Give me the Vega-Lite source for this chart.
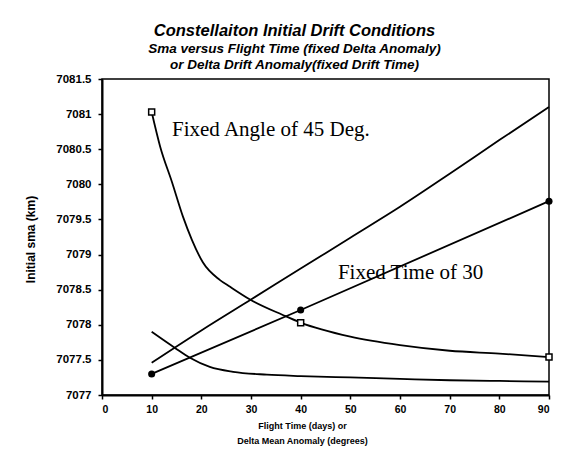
{
  "$schema": "https://vega.github.io/schema/vega-lite/v6.json",
  "width": 447,
  "height": 316,
  "autosize": {"type": "none"},
  "padding": {"left": 102, "top": 79, "right": 20, "bottom": 74},
  "background": "white",
  "config": {
    "view": {"stroke": "black", "strokeWidth": 1.5},
    "font": "Liberation Sans"
  },
  "title": {
    "text": "Constellaiton Initial Drift Conditions",
    "subtitle": ["Sma versus Flight Time (fixed Delta Anomaly)", "or Delta Drift Anomaly(fixed Drift Time)"],
    "anchor": "middle",
    "dx": -31,
    "offset": 2,
    "font": "Liberation Sans",
    "fontSize": 16.5,
    "fontStyle": "italic",
    "fontWeight": "bold",
    "color": "black",
    "subtitleFont": "Liberation Sans",
    "subtitleFontSize": 13.5,
    "subtitleFontStyle": "italic",
    "subtitleFontWeight": "bold",
    "subtitleColor": "black",
    "subtitleLineHeight": 16,
    "subtitlePadding": 2
  },
  "datasets": {
    "curves": [
      {"series": "angle45", "x": 10, "sma": 7081.03},
      {"series": "angle45", "x": 11.7, "sma": 7080.54},
      {"series": "angle45", "x": 14.1, "sma": 7080.03},
      {"series": "angle45", "x": 16.3, "sma": 7079.54},
      {"series": "angle45", "x": 18.1, "sma": 7079.21},
      {"series": "angle45", "x": 20.3, "sma": 7078.89},
      {"series": "angle45", "x": 23.7, "sma": 7078.64},
      {"series": "angle45", "x": 25.8, "sma": 7078.54},
      {"series": "angle45", "x": 29.8, "sma": 7078.36},
      {"series": "angle45", "x": 36.4, "sma": 7078.14},
      {"series": "angle45", "x": 40, "sma": 7078.03},
      {"series": "angle45", "x": 50, "sma": 7077.83},
      {"series": "angle45", "x": 60, "sma": 7077.71},
      {"series": "angle45", "x": 70, "sma": 7077.63},
      {"series": "angle45", "x": 80, "sma": 7077.59},
      {"series": "angle45", "x": 90, "sma": 7077.54},
      {"series": "lower", "x": 10, "sma": 7077.9},
      {"series": "lower", "x": 14.7, "sma": 7077.67},
      {"series": "lower", "x": 17.7, "sma": 7077.53},
      {"series": "lower", "x": 21.7, "sma": 7077.4},
      {"series": "lower", "x": 26.4, "sma": 7077.33},
      {"series": "lower", "x": 33.2, "sma": 7077.29},
      {"series": "lower", "x": 40, "sma": 7077.27},
      {"series": "lower", "x": 50, "sma": 7077.25},
      {"series": "lower", "x": 60, "sma": 7077.23},
      {"series": "lower", "x": 70, "sma": 7077.21},
      {"series": "lower", "x": 80, "sma": 7077.2},
      {"series": "lower", "x": 90, "sma": 7077.19},
      {"series": "upper", "x": 10, "sma": 7077.46},
      {"series": "upper", "x": 20, "sma": 7077.92},
      {"series": "upper", "x": 30, "sma": 7078.36},
      {"series": "upper", "x": 40, "sma": 7078.8},
      {"series": "upper", "x": 50, "sma": 7079.24},
      {"series": "upper", "x": 60, "sma": 7079.68},
      {"series": "upper", "x": 70, "sma": 7080.15},
      {"series": "upper", "x": 80, "sma": 7080.63},
      {"series": "upper", "x": 90, "sma": 7081.1},
      {"series": "time30", "x": 10, "sma": 7077.3},
      {"series": "time30", "x": 40, "sma": 7078.21},
      {"series": "time30", "x": 90, "sma": 7079.76}
    ],
    "markers": [
      {"series": "angle45", "x": 10, "sma": 7081.03},
      {"series": "angle45", "x": 40, "sma": 7078.03},
      {"series": "angle45", "x": 90, "sma": 7077.54},
      {"series": "time30", "x": 10, "sma": 7077.3},
      {"series": "time30", "x": 40, "sma": 7078.21},
      {"series": "time30", "x": 90, "sma": 7079.76}
    ],
    "notes": [
      {"label": "Fixed Angle of 45 Deg.", "x": 14.1, "sma": 7080.78},
      {"label": "Fixed Time of 30", "x": 47.5, "sma": 7078.74}
    ]
  },
  "encoding": {
    "x": {
      "field": "x",
      "type": "quantitative",
      "scale": {"domain": [0, 90], "nice": false, "zero": false},
      "axis": {
        "values": [0, 10, 20, 30, 40, 50, 60, 70, 80, 90],
        "grid": false,
        "domainColor": "black",
        "domainWidth": 2,
        "tickColor": "black",
        "tickWidth": 1.5,
        "tickSize": 4,
        "labelFont": "Liberation Sans",
        "labelFontWeight": "bold",
        "labelFontSize": 10.5,
        "labelColor": "black",
        "labelPadding": 5,
        "title": ["Flight Time (days) or", "Delta Mean Anomaly (degrees)"],
        "titleFont": "Liberation Sans",
        "titleFontSize": 9,
        "titleFontWeight": "bold",
        "titleColor": "black",
        "titleLineHeight": 15,
        "titleX": 200,
        "titleY": 26,
        "titleBaseline": "top",
        "titleAlign": "center"
      }
    },
    "y": {
      "field": "sma",
      "type": "quantitative",
      "scale": {"domain": [7077, 7081.5], "nice": false, "zero": false},
      "axis": {
        "values": [7077, 7077.5, 7078, 7078.5, 7079, 7079.5, 7080, 7080.5, 7081, 7081.5],
        "format": ".1~f",
        "grid": false,
        "domainColor": "black",
        "domainWidth": 2,
        "tickColor": "black",
        "tickWidth": 1.5,
        "tickSize": 4,
        "labelFont": "Liberation Sans",
        "labelFontWeight": "bold",
        "labelFontSize": 11.5,
        "labelColor": "black",
        "labelPadding": 7,
        "title": "Initial sma (km)",
        "titleFont": "Liberation Sans",
        "titleFontSize": 12,
        "titleFontWeight": "bold",
        "titleColor": "black",
        "titleX": -72,
        "titleY": 160,
        "titleAngle": -90,
        "titleAlign": "center",
        "titleBaseline": "middle"
      }
    }
  },
  "layer": [
    {
      "data": {"name": "curves"},
      "mark": {"type": "line", "color": "black", "strokeWidth": 1.8, "interpolate": "monotone"},
      "encoding": {"detail": {"field": "series"}}
    },
    {
      "data": {"name": "markers"},
      "transform": [{"filter": "datum.series === 'angle45'"}],
      "mark": {"type": "point", "shape": "square", "filled": true, "fill": "white", "stroke": "black", "strokeWidth": 1.5, "size": 36, "opacity": 1}
    },
    {
      "data": {"name": "markers"},
      "transform": [{"filter": "datum.series === 'time30'"}],
      "mark": {"type": "point", "shape": "circle", "filled": true, "color": "black", "size": 50, "opacity": 1}
    },
    {
      "data": {"name": "notes"},
      "mark": {"type": "text", "font": "Liberation Serif", "fontSize": 21, "align": "left", "baseline": "middle", "color": "black"},
      "encoding": {"text": {"field": "label"}}
    }
  ]
}
